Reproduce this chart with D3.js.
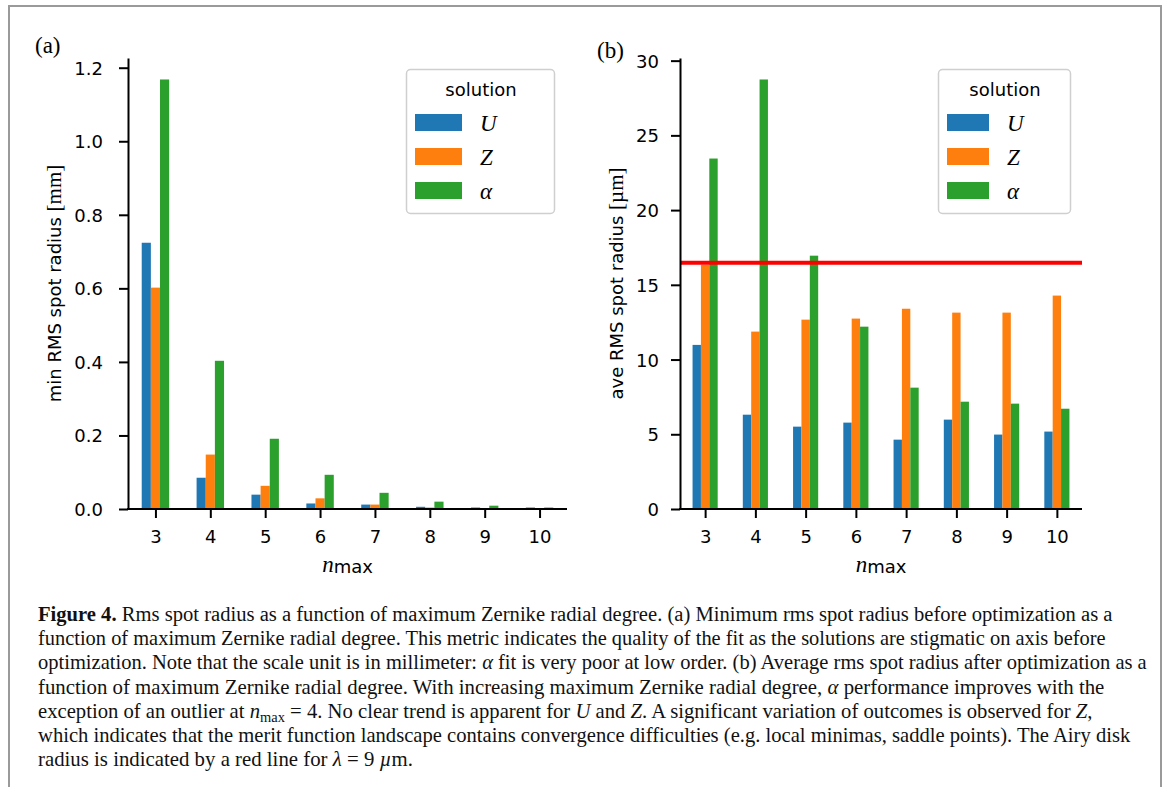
<!DOCTYPE html>
<meta charset="utf-8">
<style>
body { margin: 0; background: #fff; }
svg { display: block; }
.tick text { font: 18px "DejaVu Sans", sans-serif; fill: #000; }
.axis path, .axis line { stroke: #000; stroke-width: 2px; }
.sans { font-family: "DejaVu Sans", sans-serif; }
.serif { font-family: "Liberation Serif", serif; }
.cap { font: 20px "Liberation Serif", serif; fill: #111; }
</style>
<svg width="1168" height="787"></svg>
<script src="https://d3js.org/d3.v7.min.js"></script>
<script>

// x categories: maximum Zernike radial degree
var nmax = [3, 4, 5, 6, 7, 8, 9, 10];
var solutions = ["U", "Z", "\u03b1"];
var colors = ["#1f77b4", "#ff7f0e", "#2ca02c"];

// (a) min RMS spot radius [mm]
var minU     = [0.724, 0.085, 0.039, 0.015, 0.012, 0.006, 0.004, 0.004];
var minZ     = [0.602, 0.148, 0.063, 0.029, 0.012, 0.004, 0.001, 0.001];
var minAlpha = [1.168, 0.403, 0.191, 0.093, 0.044, 0.020, 0.009, 0.004];

// (b) ave RMS spot radius [um]
var aveU     = [10.98, 6.31, 5.51, 5.78, 4.64, 5.98, 4.98, 5.18];
var aveZ     = [16.35, 11.87, 12.67, 12.74, 13.40, 13.14, 13.14, 14.28];
var aveAlpha = [23.45, 28.74, 16.95, 12.20, 8.12, 7.18, 7.05, 6.71];
var airyRadius = 16.47;

var ticksA = [0, 0.2, 0.4, 0.6, 0.8, 1.0, 1.2];
var ticksB = [0, 5, 10, 15, 20, 25, 30];

var svg = d3.select("svg");

// figure frame
svg.append("rect")
    .attr("x", 9).attr("y", 6).attr("width", 1152).attr("height", 800)
    .attr("fill", "none").attr("stroke", "#9a9a9a").attr("stroke-width", 2);

function panel(opt) {
  var g = svg.append("g");
  var series = [opt.u, opt.z, opt.a];
  var ymax = d3.max(series, function(s) { return d3.max(s); }) * 1.05;

  var x = d3.scaleLinear().domain([-0.5, nmax.length - 0.5]).range([opt.left, opt.right]);
  var y = d3.scaleLinear().domain([0, ymax]).range([opt.bottom, opt.top]);
  var bw = 0.5 / 3;

  series.forEach(function(s, k) {
    g.selectAll(null)
      .data(s)
      .enter().append("rect")
        .attr("x", function(d, i) { return x(i + (k - 1.5) * bw); })
        .attr("width", x(bw) - x(0))
        .attr("y", function(d) { return y(d); })
        .attr("height", function(d) { return y(0) - y(d); })
        .attr("fill", colors[k]);
  });

  if (opt.line != null) {
    g.append("line")
      .attr("x1", opt.left).attr("x2", opt.right)
      .attr("y1", y(opt.line)).attr("y2", y(opt.line))
      .attr("stroke", "#ff0000").attr("stroke-width", 4);
  }

  var yAxis = g.append("g")
      .attr("class", "axis")
      .attr("transform", "translate(" + opt.left + ",0)")
      .call(d3.axisLeft(y).tickValues(opt.ticks).tickFormat(opt.fmt)
        .tickSize(9).tickSizeOuter(0).tickPadding(opt.pad));
  yAxis.selectAll(".tick text").attr("dy", "0.36em");

  var xAxis = g.append("g")
      .attr("class", "axis")
      .attr("transform", "translate(0," + opt.bottom + ")")
      .call(d3.axisBottom(x).tickValues(d3.range(nmax.length))
        .tickFormat(function(i) { return nmax[i]; })
        .tickSize(9).tickSizeOuter(0));
  xAxis.selectAll(".tick text").attr("y", 34).attr("dy", 0);
  xAxis.select(".domain").attr("d", "M" + (opt.left - 1) + ",0H" + opt.right);

  // x label
  var xl = g.append("text")
      .attr("x", (opt.left + opt.right) / 2).attr("y", 573)
      .attr("text-anchor", "middle");
  xl.append("tspan").attr("class", "serif").style("font-style", "italic")
      .style("font-size", "23px").attr("dy", -1).text("n");
  xl.append("tspan").attr("class", "sans").style("font-size", "18px").attr("dy", 1).text("max");

  // y label
  var yl = g.append("text")
      .attr("transform", "translate(" + opt.ylabelX + "," + (opt.top + opt.bottom) / 2 + ") rotate(-90)")
      .attr("text-anchor", "middle");
  yl.append("tspan").attr("class", "sans").style("font-size", "18px").text(opt.ylabel + " ");
  yl.append("tspan").attr("class", "serif").style("font-size", "21px").text(opt.unit);

  // panel tag
  svg.append("text").attr("class", "serif").style("font-size", "23px")
      .attr("x", opt.tagX).attr("y", opt.tagY).text(opt.tag);

  // legend
  var lg = svg.append("g").attr("transform", "translate(" + opt.legX + ",69)");
  lg.append("rect")
      .attr("x", 0.5).attr("y", 0.5).attr("width", opt.legW).attr("height", 144)
      .attr("rx", 4).attr("fill", "#fff")
      .attr("stroke", "#cfcfcf").attr("stroke-width", 1.5);
  lg.append("text").attr("class", "sans").style("font-size", "18px")
      .attr("x", opt.legW / 2 + 1).attr("y", 27).attr("text-anchor", "middle").text("solution");
  solutions.forEach(function(s, k) {
    lg.append("rect")
        .attr("x", 9).attr("y", 45 + k * 34)
        .attr("width", opt.patchW).attr("height", 17)
        .attr("fill", colors[k]);
    lg.append("text").attr("class", "serif")
        .style("font-style", "italic").style("font-size", "23px")
        .attr("x", opt.patchW + 27).attr("y", 62 + k * 34).text(s);
  });
}

panel({
  u: minU, z: minZ, a: minAlpha,
  left: 128, right: 567, top: 58, bottom: 509,
  ticks: ticksA, fmt: d3.format(".1f"), pad: 16,
  ylabel: "min RMS spot radius", unit: "[mm]", ylabelX: 61,
  tag: "(a)", tagX: 35, tagY: 53,
  legX: 406, legW: 148, patchW: 47
});

panel({
  u: aveU, z: aveZ, a: aveAlpha, line: airyRadius,
  left: 680, right: 1082, top: 58, bottom: 509,
  ticks: ticksB, fmt: d3.format("d"), pad: 12,
  ylabel: "ave RMS spot radius", unit: "[\u00b5m]", ylabelX: 623,
  tag: "(b)", tagX: 597, tagY: 58,
  legX: 938, legW: 132, patchW: 42
});

// caption, one entry per printed line; i = italic, b = bold, sub = subscript
var captionLines = [
  [["b", "Figure 4."], ["", " Rms spot radius as a function of maximum Zernike radial degree. (a) Minimum rms spot radius before optimization as a"]],
  [["", "function of maximum Zernike radial degree. This metric indicates the quality of the fit as the solutions are stigmatic on axis before"]],
  [["", "optimization. Note that the scale unit is in millimeter: "], ["i", "\u03b1"], ["", " fit is very poor at low order. (b) Average rms spot radius after optimization as a"]],
  [["", "function of maximum Zernike radial degree. With increasing maximum Zernike radial degree, "], ["i", "\u03b1"], ["", " performance improves with the"]],
  [["", "exception of an outlier at "], ["i", "n"], ["sub", "max"], ["", " = 4. No clear trend is apparent for "], ["i", "U"], ["", " and "], ["i", "Z"], ["", ". A significant variation of outcomes is observed for "], ["i", "Z"], ["", ","]],
  [["", "which indicates that the merit function landscape contains convergence difficulties (e.g. local minimas, saddle points). The Airy disk"]],
  [["", "radius is indicated by a red line for "], ["i", "\u03bb"], ["", " = 9 "], ["i", "\u00b5"], ["", "m."]]
];
var captionEnds = [1113, 1106, 1147, 1105, 1093, 1131, 413];

captionLines.forEach(function(line, li) {
  var t = svg.append("text").attr("class", "cap");
  line.forEach(function(seg) {
    var ts = t.append("tspan").text(seg[1]);
    if (seg[0] === "b") ts.style("font-weight", "bold");
    if (seg[0] === "i") ts.style("font-style", "italic");
    if (seg[0] === "sub") ts.style("font-size", "14px").attr("dy", 4);
    if (seg[0] === "" && li === 4 && seg[1].indexOf(" = 4") === 0) ts.attr("dy", -4);
  });
  var w = t.node().getComputedTextLength();
  var s = (captionEnds[li] - 38) / w;
  t.attr("transform", "translate(38," + (621 + li * 24.2) + ") scale(" + s + ",1)");
});

</script>
